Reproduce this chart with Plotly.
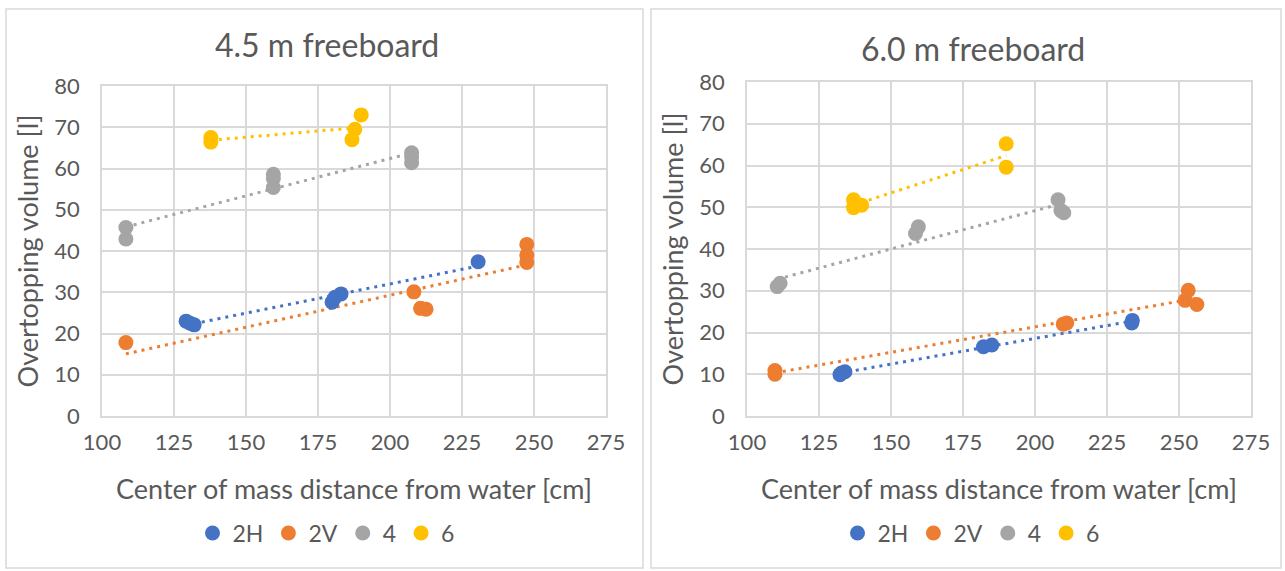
import numpy as np
import plotly.graph_objects as go

# ---- data: 4.5 m freeboard ----
x45_2h = [129.2, 130.6, 132.0, 179.9, 180.9, 183.0, 230.6]
y45_2h = [23.0, 22.5, 22.1, 27.6, 28.8, 29.6, 37.4]
x45_2v = [108.3, 208.3, 210.6, 212.5, 247.5, 247.5, 247.5]
y45_2v = [17.8, 30.1, 26.1, 25.9, 41.6, 39.0, 37.2]
x45_4 = [108.3, 108.3, 159.5, 159.5, 159.5, 207.5, 207.5, 207.5]
y45_4 = [45.7, 42.9, 58.6, 57.6, 55.4, 63.8, 62.8, 61.4]
x45_6 = [137.8, 137.8, 190.0, 187.8, 186.8]
y45_6 = [67.5, 66.4, 73.0, 69.5, 67.0]

# ---- data: 6.0 m freeboard ----
x60_2h = [132.3, 132.8, 134.0, 182.1, 185.0, 233.6, 233.8]
y60_2h = [9.9, 10.3, 10.6, 16.6, 17.0, 22.3, 22.9]
x60_2v = [109.7, 109.7, 209.8, 211.0, 253.2, 252.1, 256.2]
y60_2v = [10.9, 10.0, 22.0, 22.3, 30.1, 27.7, 26.7]
x60_4 = [110.5, 111.5, 159.5, 158.5, 208.0, 209.0, 210.0]
y60_4 = [31.0, 31.8, 45.3, 43.7, 51.8, 49.2, 48.7]
x60_6 = [137.0, 137.0, 139.8, 190.0, 190.0]
y60_6 = [51.8, 49.9, 50.5, 65.2, 59.6]

series_names = ["2H", "2V", "4", "6"]
colors = ["#4472C4", "#ED7D31", "#A5A5A5", "#FFC000"]

panels = [
    ("4.5 m freeboard", [(x45_2h, y45_2h), (x45_2v, y45_2v), (x45_4, y45_4), (x45_6, y45_6)]),
    ("6.0 m freeboard", [(x60_2h, y60_2h), (x60_2v, y60_2v), (x60_4, y60_4), (x60_6, y60_6)]),
]

W, H = 1285, 571
FONT = "Lato"
TXT = "#595959"

fig = go.Figure()

for p, (title, groups) in enumerate(panels):
    xa = "x" if p == 0 else "x2"
    ya = "y" if p == 0 else "y2"
    leg = "legend" if p == 0 else "legend2"
    # linear trendlines (least squares), drawn between the extreme x values
    for (xs, ys), c in zip(groups, colors):
        k, b = np.polyfit(xs, ys, 1)
        xl = np.array([min(xs), max(xs)])
        fig.add_trace(go.Scatter(
            x=xl, y=k * xl + b, mode="lines", xaxis=xa, yaxis=ya,
            line=dict(color=c, width=3, dash="3px,5px"),
            showlegend=False, hoverinfo="skip"))
    for (xs, ys), c, name in zip(groups, colors, series_names):
        fig.add_trace(go.Scatter(
            x=xs, y=ys, mode="markers", name=name, xaxis=xa, yaxis=ya,
            marker=dict(color=c, size=15, line=dict(width=0)),
            legend=leg))

axis_common = dict(
    showgrid=True, gridcolor="#D9D9D9", gridwidth=1.5,
    showline=True, linecolor="#D9D9D9", linewidth=1.5, mirror=True,
    zeroline=False, ticks="", automargin=False,
    tickfont=dict(family=FONT, size=22, color=TXT),
)

xdom_l = [102 / W, 606 / W]
xdom_r = [747 / W, 1251 / W]
ydom_l = [(H - 416) / H, (H - 86) / H]
ydom_r = [(H - 416) / H, (H - 82) / H]

xtitle = dict(text="Center of mass distance from water [cm]",
              font=dict(family=FONT, size=27, color=TXT), standoff=26)
ytitle = dict(text="Overtopping volume [l]",
              font=dict(family=FONT, size=27, color=TXT), standoff=8)

legend_common = dict(
    orientation="h", yanchor="middle", xanchor="center",
    font=dict(family=FONT, size=23, color=TXT),
    itemwidth=30, tracegroupgap=0, bgcolor="rgba(0,0,0,0)",
)

fig.update_layout(
    width=W, height=H,
    margin=dict(l=0, r=0, t=0, b=0, autoexpand=False),
    paper_bgcolor="white", plot_bgcolor="white",
    xaxis=dict(domain=xdom_l, range=[100, 275], dtick=25, anchor="y",
               ticklabelstandoff=6, title=xtitle, **axis_common),
    yaxis=dict(domain=ydom_l, range=[0, 80], dtick=10, anchor="x",
               ticklabelstandoff=16, title=ytitle, **axis_common),
    xaxis2=dict(domain=xdom_r, range=[100, 275], dtick=25, anchor="y2",
                ticklabelstandoff=6, title=xtitle, **axis_common),
    yaxis2=dict(domain=ydom_r, range=[0, 80], dtick=10, anchor="x2",
                ticklabelstandoff=16, title=ytitle, **axis_common),
    legend=dict(x=326 / W, y=(H - 533) / H, **legend_common),
    legend2=dict(x=971 / W, y=(H - 533) / H, **legend_common),
    showlegend=True,
    annotations=[
        dict(text="4.5 m freeboard", x=327 / W, y=(H - 45) / H,
             xref="paper", yref="paper", showarrow=False,
             xanchor="center", yanchor="middle",
             font=dict(family=FONT, size=32, color=TXT)),
        dict(text="6.0 m freeboard", x=973 / W, y=(H - 48) / H,
             xref="paper", yref="paper", showarrow=False,
             xanchor="center", yanchor="middle",
             font=dict(family=FONT, size=32, color=TXT)),
    ],
    shapes=[
        dict(type="rect", xref="paper", yref="paper",
             x0=6 / W, x1=643 / W, y0=(H - 568) / H, y1=(H - 9) / H,
             line=dict(color="#D9D9D9", width=1.5)),
        dict(type="rect", xref="paper", yref="paper",
             x0=651 / W, x1=1281 / W, y0=(H - 568) / H, y1=(H - 9) / H,
             line=dict(color="#D9D9D9", width=1.5)),
    ],
)

fig.write_html("out.html")
